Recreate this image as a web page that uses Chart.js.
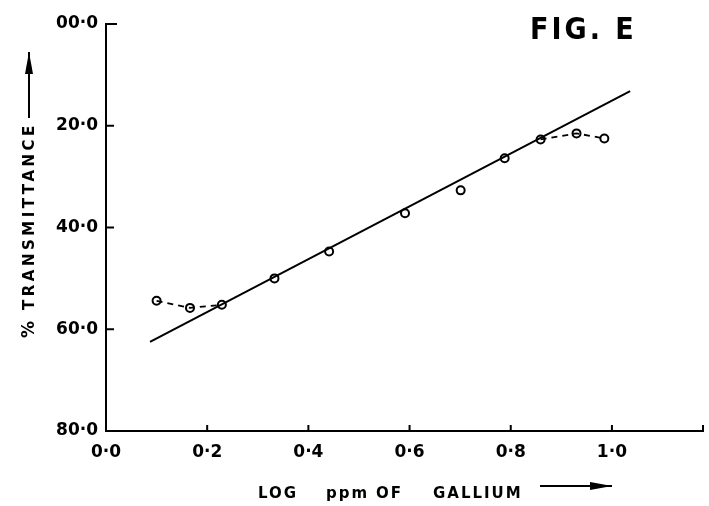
<!DOCTYPE html>
<html>
<head>
<meta charset="utf-8">
<script src="https://cdn.jsdelivr.net/npm/chart.js@4/dist/chart.umd.min.js"></script>
<style>
  body { margin: 0; background: #fff; }
  canvas { display: block; }
</style>
</head>
<body>
<canvas id="myChart" width="709" height="506"></canvas>
<script>
// log ppm of gallium vs % transmittance
const xValues = [0.10, 0.166, 0.229, 0.333, 0.441, 0.591, 0.701, 0.788, 0.859, 0.930, 0.985];
const yValues = [54.4, 55.8, 55.2, 50.0, 44.7, 37.2, 32.7, 26.4, 22.7, 21.5, 22.5];

// dashed parts at both ends (indexes into the arrays above)
const lowDashIdx = [0, 1, 2];
const highDashIdx = [8, 9, 10];

// end points of the drawn straight line
const fitX = [0.087, 1.036];
const fitY = [62.5, 13.2];

const xTicks = [0, 0.2, 0.4, 0.6, 0.8, 1.0];
const xTickLabels = ['0·0', '0·2', '0·4', '0·6', '0·8', '1·0'];
const yTicks = [0, 20, 40, 60, 80];
const yTickLabels = ['00·0', '20·0', '40·0', '60·0', '80·0'];

const figLabel = 'FIG. E';
const xTitleWords = ['LOG', 'ppm', 'OF', 'GALLIUM'];
const yTitleWords = ['%', 'TRANSMITTANCE'];

function toPoints(idx) {
  return idx.map(i => ({ x: xValues[i], y: yValues[i] }));
}

function arrow(ctx, x1, y1, x2, y2) {
  const a = Math.atan2(y2 - y1, x2 - x1);
  ctx.beginPath();
  ctx.moveTo(x1, y1);
  ctx.lineTo(x2, y2);
  ctx.stroke();
  ctx.beginPath();
  ctx.moveTo(x2, y2);
  ctx.lineTo(x2 - 22 * Math.cos(a) + 4 * Math.sin(a), y2 - 22 * Math.sin(a) - 4 * Math.cos(a));
  ctx.lineTo(x2 - 22 * Math.cos(a) - 4 * Math.sin(a), y2 - 22 * Math.sin(a) + 4 * Math.cos(a));
  ctx.closePath();
  ctx.fill();
}

// inward tick marks + the lettering around the plot
const decorations = {
  id: 'decorations',
  afterDraw(chart) {
    const ctx = chart.ctx;
    const xs = chart.scales.x, ys = chart.scales.y;
    const area = chart.chartArea;
    ctx.save();
    ctx.strokeStyle = '#000';
    ctx.fillStyle = '#000';
    ctx.lineWidth = 2;

    // tick marks pointing into the plot
    yTicks.forEach(v => {
      if (v === 80) return;
      const py = ys.getPixelForValue(v);
      ctx.beginPath();
      ctx.moveTo(area.left, py);
      ctx.lineTo(area.left + (v === 0 ? 11 : 8), py);
      ctx.stroke();
    });
    xTicks.concat([1.18]).forEach(v => {
      if (v === 0) return;
      const px = xs.getPixelForValue(v);
      ctx.beginPath();
      ctx.moveTo(px, area.bottom);
      ctx.lineTo(px, area.bottom - 6);
      ctx.stroke();
    });

    // figure label
    ctx.font = 'bold 30px "DejaVu Sans Condensed", "DejaVu Sans"';
    ctx.letterSpacing = '3px';
    ctx.textBaseline = 'alphabetic';
    ctx.textAlign = 'left';
    ctx.fillText(figLabel, 530, 39);

    // x title
    ctx.font = 'bold 15px "DejaVu Sans"';
    ctx.letterSpacing = '2px';
    const wordX = [258, 326, 376, 433];
    xTitleWords.forEach((w, i) => ctx.fillText(w, wordX[i], 498));
    ctx.lineWidth = 2;
    arrow(ctx, 540, 486, 612, 486);

    // y title, rotated
    ctx.save();
    ctx.translate(34, 0);
    ctx.rotate(-Math.PI / 2);
    ctx.font = 'bold 17px "DejaVu Sans"';
    ctx.letterSpacing = '0px';
    ctx.fillText(yTitleWords[0], -338, 0);
    ctx.font = 'bold 15px "DejaVu Sans"';
    ctx.letterSpacing = '3.5px';
    ctx.fillText(yTitleWords[1], -310, 0);
    ctx.restore();
    arrow(ctx, 29, 118, 29, 52);

    ctx.restore();
  }
};

const tickFont = { family: '"DejaVu Sans"', size: 17, weight: 'bold' };

new Chart(document.getElementById('myChart').getContext('2d'), {
  type: 'scatter',
  data: {
    datasets: [
      {
        data: fitX.map((x, i) => ({ x: x, y: fitY[i] })),
        showLine: true,
        borderColor: '#000',
        borderWidth: 2,
        pointRadius: 0,
      },
      {
        data: toPoints(lowDashIdx),
        showLine: true,
        borderColor: '#000',
        borderWidth: 1.8,
        borderDash: [6, 5],
        pointRadius: 0,
      },
      {
        data: toPoints(highDashIdx),
        showLine: true,
        borderColor: '#000',
        borderWidth: 1.8,
        borderDash: [6, 5],
        pointRadius: 0,
      },
      {
        data: xValues.map((x, i) => ({ x: x, y: yValues[i] })),
        showLine: false,
        pointRadius: 4,
        pointBackgroundColor: '#fff',
        pointBorderColor: '#000',
        pointBorderWidth: 2,
      },
    ],
  },
  options: {
    responsive: false,
    animation: false,
    layout: { padding: { top: 24, right: 4, left: 0, bottom: 0 } },
    plugins: {
      legend: { display: false },
      tooltip: { enabled: false },
    },
    scales: {
      x: {
        type: 'linear',
        min: 0,
        max: 1.18,
        afterBuildTicks: (scale) => { scale.ticks = xTicks.map(v => ({ value: v })); },
        afterFit: (scale) => { scale.height = 75; },
        ticks: {
          color: '#000',
          font: tickFont,
          padding: 3,
          maxRotation: 0,
          callback: (v, i) => xTickLabels[i],
        },
        grid: { display: false },
        border: { display: true, color: '#000', width: 2 },
      },
      y: {
        type: 'linear',
        reverse: true,
        min: 0,
        max: 80,
        afterBuildTicks: (scale) => { scale.ticks = yTicks.map(v => ({ value: v })); },
        afterFit: (scale) => { scale.width = 106; },
        ticks: {
          color: '#000',
          font: tickFont,
          padding: 0,
          callback: (v, i) => yTickLabels[i],
        },
        grid: { display: false },
        border: { display: true, color: '#000', width: 2 },
      },
    },
  },
  plugins: [decorations],
});
</script>
</body>
</html>
